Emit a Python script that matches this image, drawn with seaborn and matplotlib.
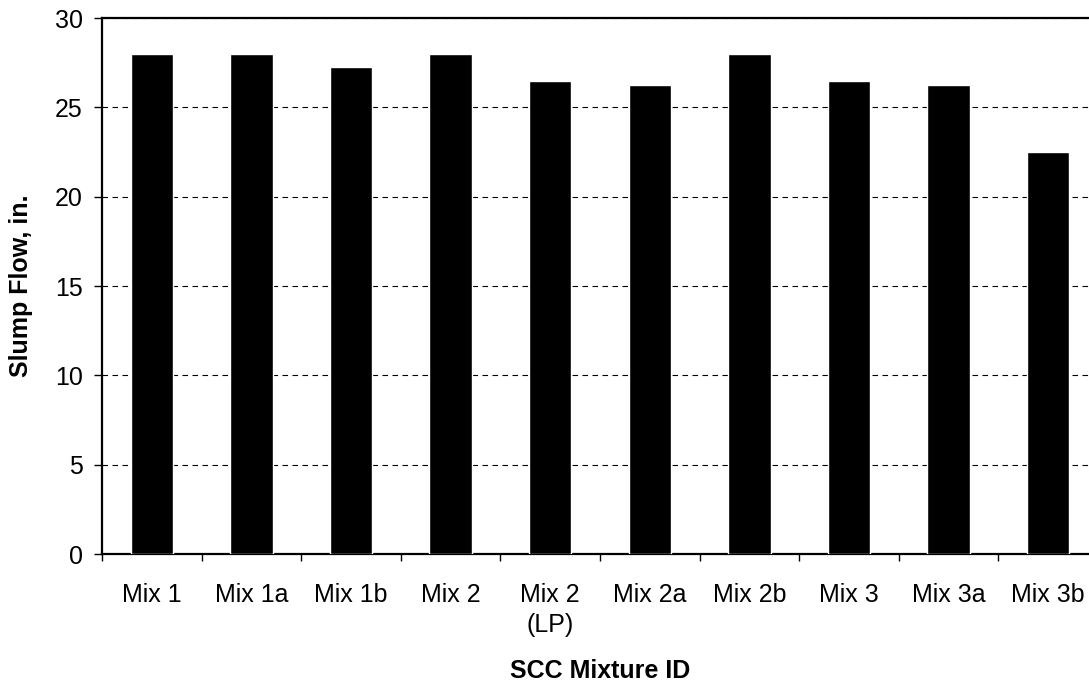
import numpy as np
import pandas as pd
import matplotlib
matplotlib.use("Agg")
import matplotlib.pyplot as plt
import seaborn as sns

mixes = ["Mix 1", "Mix 1a", "Mix 1b", "Mix 2", "Mix 2\n(LP)", "Mix 2a",
         "Mix 2b", "Mix 3", "Mix 3a", "Mix 3b"]
slump_flow = [28, 28, 27.25, 28, 26.5, 26.25, 28, 26.5, 26.25, 22.5]
y_ticks = [0, 5, 10, 15, 20, 25, 30]

df = pd.DataFrame({"mix": mixes, "slump": slump_flow})

sns.set_theme(style="white", rc={"text.color": "black", "axes.labelcolor": "black",
                                 "xtick.color": "black", "ytick.color": "black"})
plt.rcParams["font.family"] = ["Liberation Sans", "DejaVu Sans"]

W, H = 1089, 684
fig = plt.figure(figsize=(W / 100, H / 100), dpi=100)
ax = fig.add_axes([102 / W, (H - 554) / H, 996 / W, 536 / H])

sns.barplot(data=df, x="mix", y="slump", color="black", width=0.425,
            saturation=1, ax=ax, zorder=3)

ax.set_ylim(0, 30)
ax.set_xlim(-0.5, len(mixes) - 0.5)
ax.set_yticks(y_ticks)
ax.yaxis.grid(True, color="black", linestyle=(0, (5, 4)), linewidth=0.8, zorder=0)
ax.xaxis.grid(False)

for s in ["left", "bottom", "top", "right"]:
    ax.spines[s].set_color("black")
    ax.spines[s].set_linewidth(1.6)

ax.set_xticks(np.arange(len(mixes)))
ax.set_xticklabels(mixes, fontsize=18, linespacing=1.3)
ax.set_xticks(np.arange(len(mixes)) - 0.5, minor=True)
ax.tick_params(axis="x", which="major", length=0, pad=21, labelsize=18)
ax.tick_params(axis="x", which="minor", length=5, width=1, color="black", direction="out", bottom=True)
ax.tick_params(axis="y", length=6, width=1, color="black", direction="out", left=True, pad=8, labelsize=18)

ax.set_xlabel("SCC Mixture ID", fontsize=18, fontweight="bold")
ax.set_ylabel("Slump Flow, in.", fontsize=18, fontweight="bold")
ax.xaxis.set_label_coords(0.5, -0.195)
ax.yaxis.set_label_coords(-0.069, 0.5)

fig.savefig("out.png", dpi=100)
